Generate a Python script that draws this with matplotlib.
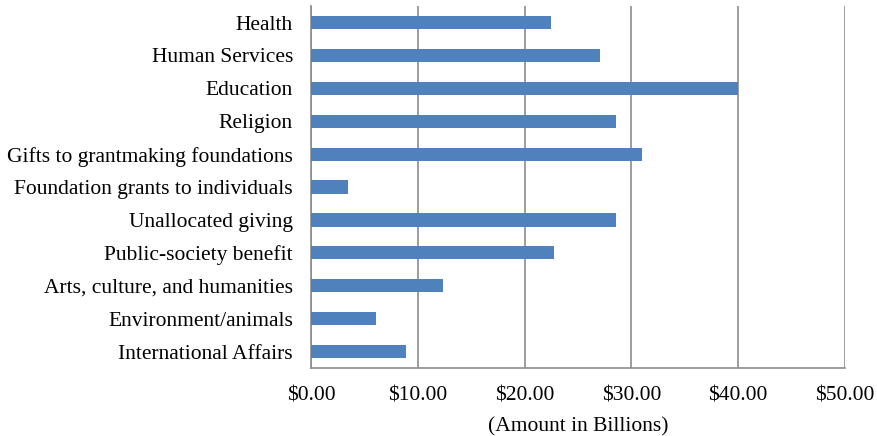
import matplotlib.pyplot as plt

categories = ['Health', 'Human Services', 'Education', 'Religion',
              'Gifts to grantmaking foundations', 'Foundation grants to individuals',
              'Unallocated giving', 'Public-society benefit',
              'Arts, culture, and humanities', 'Environment/animals',
              'International Affairs']
amounts = [22.5, 27.1, 40.0, 28.6, 31.0, 3.5, 28.6, 22.8, 12.4, 6.1, 8.9]
xticks = [0, 10, 20, 30, 40, 50]

plt.rcParams['font.family'] = ['Liberation Serif', 'DejaVu Serif']

fig = plt.figure(figsize=(8.77, 4.36), dpi=100)
ax = fig.add_axes([0.3546, 0.156, 0.6089, 0.830])

pos = list(range(len(categories)))
ax.barh(pos, amounts, height=0.4, color='#4F81BD', zorder=3)
ax.set_ylim(len(categories) - 0.5, -0.5)
ax.set_yticks(pos)
ax.set_yticklabels(categories, fontsize=15.5)
ax.set_xlim(0, 50)
ax.set_xticks(xticks)
ax.set_xticklabels(['$%.2f' % v for v in xticks], fontsize=15.5)
ax.set_xlabel('(Amount in Billions)', fontsize=15.5, labelpad=9)

ax.grid(axis='x', color='#8c8c8c', linewidth=1.2, zorder=0)
for s in ['top', 'right']:
    ax.spines[s].set_visible(False)
ax.spines['left'].set_color('#8c8c8c')
ax.spines['bottom'].set_color('#8c8c8c')
ax.spines['left'].set_linewidth(1.2)
ax.spines['bottom'].set_linewidth(1.2)
ax.tick_params(axis='y', length=0, pad=13)
ax.tick_params(axis='x', length=0, pad=13)

fig.savefig('out.png', dpi=100)
